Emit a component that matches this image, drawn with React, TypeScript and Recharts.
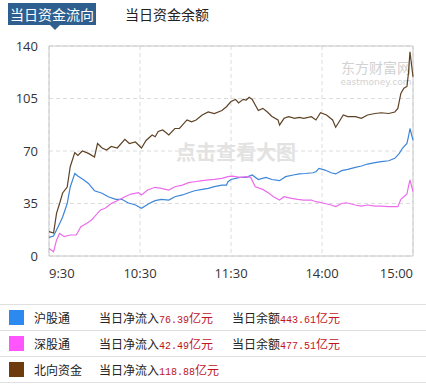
import { LineChart, Line, XAxis, YAxis, CartesianGrid, ReferenceArea } from "recharts";

// minutes since 9:30 (trading minutes, lunch break removed)
const timeTicks = [0, 60, 120, 180, 240];
const timeLabels = ["9:30", "10:30", "11:30", "14:00", "15:00"];
const valueTicks = [0, 35, 70, 105, 140];

const shTimes = [0, 3, 6, 9, 12, 14, 17, 19, 23, 26, 30, 35, 39, 44, 48, 52, 57, 61, 66, 70, 74, 79, 83, 88, 92, 96, 101, 105, 109, 114, 117, 118, 120, 126, 130, 134, 138, 143, 147, 152, 156, 161, 165, 169, 174, 176, 178, 182, 186, 189, 193, 197, 202, 206, 210, 215, 219, 224, 228, 231, 233, 236, 237, 238, 240];
const shValues = [12.4, 13.3, 19.5, 26, 35, 46, 55, 53.3, 50.7, 48.4, 43.5, 41.8, 39.5, 37.8, 37.8, 35.5, 34, 31.8, 35, 36.9, 37.8, 37.3, 39.5, 40.7, 42.2, 43.5, 44.4, 45.1, 46.2, 47.3, 47.3, 49.5, 51, 52.4, 52.4, 54, 51, 52.4, 51, 50.2, 52.9, 54, 54.7, 55, 55.5, 56.2, 58.4, 57.3, 55.5, 54.7, 56.9, 57.8, 59.1, 60, 61.3, 62.2, 62.9, 63.5, 65.1, 68.4, 71.8, 75.1, 79.5, 85, 77.3];

const szTimes = [0, 3, 5, 7, 10, 14, 18, 21, 25, 28, 30, 34, 37, 41, 46, 50, 54, 59, 61, 65, 70, 74, 79, 83, 88, 92, 96, 101, 105, 109, 114, 118, 121, 126, 130, 133, 136, 141, 145, 148, 152, 155, 160, 164, 168, 173, 176, 180, 186, 189, 193, 196, 202, 206, 210, 215, 219, 224, 230, 232, 234, 236, 237, 238, 240];
const szValues = [5, 2.9, 10.7, 15, 12.9, 14, 14, 19.5, 21.8, 24, 26.2, 30.7, 31.8, 35, 37.3, 39.5, 41.3, 42.2, 40.7, 44, 45.8, 45.1, 44, 46.2, 47.3, 48.9, 49.5, 50.2, 50.7, 51.1, 51.8, 52.9, 53.3, 52.4, 52.9, 52.4, 46.2, 44.4, 41.8, 39.5, 37.3, 39.5, 38.4, 37.8, 37.3, 37.3, 36.2, 35.5, 34, 32.9, 35, 35.5, 34, 33.3, 34, 33.3, 33.3, 32.9, 32.9, 37.8, 39.5, 41.3, 46.2, 50.7, 42.9];

const northTimes = [0, 3, 5, 7, 9, 12, 14, 17, 19, 22, 26, 30, 32, 35, 38, 41, 45, 50, 53, 57, 61, 64, 68, 70, 72, 75, 79, 83, 86, 91, 94, 97, 101, 105, 109, 114, 117, 120, 123, 125, 128, 130, 132, 134, 138, 141, 144, 147, 151, 152, 155, 158, 162, 165, 168, 173, 176, 179, 183, 187, 189, 192, 194, 197, 202, 206, 210, 215, 219, 224, 228, 230, 232, 234, 236, 237, 238, 240];
const northValues = [16.2, 15.3, 28.6, 35, 42, 46, 59.5, 69, 67, 70, 68.4, 66, 75, 72, 70.7, 73, 72, 77.8, 75, 76, 72, 77, 80.7, 79.5, 83, 84, 80.7, 85, 85, 90.7, 89.5, 90.7, 94, 96, 95, 97, 99.5, 103, 104.4, 102, 104.4, 104, 105.8, 104.4, 97, 98.4, 96, 93, 90.7, 87.3, 91.8, 92.9, 91.8, 92.4, 91.8, 92.9, 90.7, 95.5, 94, 90.7, 85.8, 90.7, 94, 92.9, 92.9, 91.8, 94, 95, 95.5, 95, 96, 98.4, 108.4, 111.8, 113, 121.8, 136.2, 119.5];

const seriesNames = ["沪股通", "深股通", "北向资金"];
const lineColors = ["#3d86d8", "#ec6cec", "#5e4225"];
const legendColors = ["#2b89f0", "#ff55ff", "#6e3c0c"];
const netInflow = ["76.39", "42.49", "118.88"];
const balance = ["443.61", "477.51", ""];

const shData = shTimes.map((t, i) => ({ t, v: shValues[i] }));
const szData = szTimes.map((t, i) => ({ t, v: szValues[i] }));
const northData = northTimes.map((t, i) => ({ t, v: northValues[i] }));

const font = "'Noto Sans CJK SC', 'Noto Sans', sans-serif";

const XTick = (props: any) => {
  const { x, y, payload } = props;
  const i = timeTicks.indexOf(payload.value);
  const anchor = i === 0 ? "start" : i === timeTicks.length - 1 ? "end" : "middle";
  return (
    <text x={x} y={y} dy={20} textAnchor={anchor} fontSize={13} fill="#333" fontFamily="'Open Sans', sans-serif">
      {timeLabels[i]}
    </text>
  );
};

const App = () => {
  return (
    <div style={{ position: "absolute", left: 0, top: 0, width: 426, height: 385, background: "#fff", fontFamily: font }}>
      {/* tabs */}
      <div style={{ position: "absolute", left: 8, top: 3, width: 88, height: 22, background: "#2f5f8e", color: "#fff", fontSize: 14, lineHeight: "22px", textAlign: "center" }}>
        当日资金流向
      </div>
      <div style={{ position: "absolute", left: 50, top: 25, width: 0, height: 0, borderLeft: "5px solid transparent", borderRight: "5px solid transparent", borderTop: "5px solid #2f5f8e" }} />
      <div style={{ position: "absolute", left: 125, top: 3, fontSize: 14, lineHeight: "22px", color: "#222" }}>当日资金余额</div>

      <div style={{ position: "absolute", left: 0, top: 0 }}>
        <LineChart width={426} height={290} margin={{ top: 46, right: 13, left: 0, bottom: 0 }}>
          <CartesianGrid stroke="#dcdcdc" strokeDasharray="4 3" />
          <XAxis
            dataKey="t"
            type="number"
            domain={[0, 240]}
            ticks={timeTicks}
            tick={<XTick />}
            tickLine={false}
            axisLine={false}
            tickSize={0}
            height={34}
            allowDuplicatedCategory={false}
          />
          <YAxis
            domain={[0, 140]}
            ticks={valueTicks}
            width={49}
            tickLine={false}
            axisLine={false}
            tickSize={0}
            tickMargin={11}
            tick={{ fontSize: 13, fill: "#333", fontFamily: "'Open Sans', sans-serif" }}
          />
          <ReferenceArea x1={0} x2={240} y1={0} y2={140} fill="none" stroke="#c8c8c8" strokeWidth={1} />
          <text x={236} y={160} textAnchor="middle" fontSize={20} fontWeight="bold" fill="#e2e2e2" fontFamily={font}>
            点击查看大图
          </text>
          <text x={376} y={73} textAnchor="middle" fontSize={14} fill="#d2d2d2" fontFamily="'Noto Sans CJK SC', serif">
            东方财富网
          </text>
          <text x={376} y={85} textAnchor="middle" fontSize={9} fill="#d2d2d2" fontFamily="'DejaVu Sans', sans-serif">
            eastmoney.com
          </text>
          <Line data={shData} dataKey="v" stroke={lineColors[0]} strokeWidth={1.2} dot={false} isAnimationActive={false} />
          <Line data={szData} dataKey="v" stroke={lineColors[1]} strokeWidth={1.2} dot={false} isAnimationActive={false} />
          <Line data={northData} dataKey="v" stroke={lineColors[2]} strokeWidth={1.2} dot={false} isAnimationActive={false} />
        </LineChart>
      </div>

      {/* legend table */}
      <div style={{ position: "absolute", left: 0, top: 304, width: 426, borderTop: "1px solid #e0e0e0" }}>
        {seriesNames.map((name, i) => (
          <div key={name} style={{ position: "relative", height: 25, borderBottom: "1px solid #e0e0e0", fontSize: 12, color: "#222", lineHeight: "25px" }}>
            <span style={{ position: "absolute", left: 9, top: 5, width: 15, height: 15, background: legendColors[i] }} />
            <span style={{ position: "absolute", left: 34 }}>{name}</span>
            <span style={{ position: "absolute", left: 99 }}>
              当日净流入
              <span style={{ color: "#c0141f" }}>
                <span style={{ fontFamily: "'Liberation Mono', monospace", fontSize: 10 }}>{netInflow[i]}</span>亿元
              </span>
            </span>
            {balance[i] && (
              <span style={{ position: "absolute", left: 232 }}>
                当日余额
                <span style={{ color: "#c0141f" }}>
                  <span style={{ fontFamily: "'Liberation Mono', monospace", fontSize: 10 }}>{balance[i]}</span>亿元
                </span>
              </span>
            )}
          </div>
        ))}
      </div>
    </div>
  );
};

export default App;
